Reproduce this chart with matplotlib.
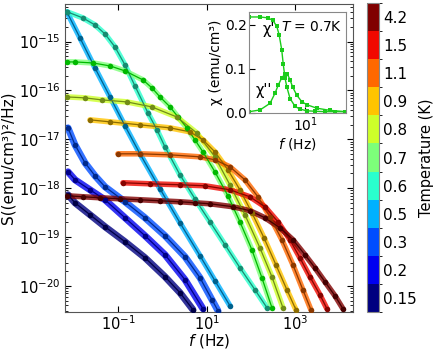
import numpy as np
import matplotlib
matplotlib.use("Agg")
import matplotlib.pyplot as plt
from matplotlib import colors as mcolors
from matplotlib.ticker import LogLocator, NullFormatter, FixedLocator, NullLocator

plt.rcParams['font.family'] = ['DejaVu Sans']

temps = ["0.15", "0.2", "0.3", "0.5", "0.6", "0.7", "0.8", "0.9", "1.1", "1.5", "4.2"]

# log10(f / Hz) and log10(S), one pair per temperature
lf_015 = [-2.139, -1.981, -1.641, -1.302, -0.849, -0.397, 0.056, 0.395, 0.689]
ls_015 = [-18.136, -18.300, -18.545, -18.790, -19.097, -19.424, -19.813, -20.140, -20.488]

lf_02 = [-2.139, -1.981, -1.641, -1.302, -0.849, -0.397, 0.056, 0.509, 0.915]
ls_02 = [-17.666, -17.829, -18.034, -18.238, -18.606, -18.974, -19.363, -19.874, -20.467]

lf_03 = [-2.139, -1.981, -1.754, -1.528, -1.302, -0.849, -0.397, 0.056, 0.509, 0.848, 1.119, 1.255]
ls_03 = [-16.766, -17.113, -17.482, -17.747, -17.972, -18.279, -18.606, -18.974, -19.404, -19.833, -20.283, -20.508]

lf_05 = [-2.168, -1.867, -1.528, -1.187, -0.849, -0.510, -0.057, 0.395, 0.848, 1.187, 1.526]
ls_05 = [-14.387, -14.925, -15.539, -16.132, -16.725, -17.297, -18.013, -18.709, -19.383, -19.895, -20.406]

lf_06 = [-2.168, -1.800, -1.528, -1.302, -1.076, -0.849, -0.623, -0.329, -0.125, 0.056, 0.395,
         0.734, 1.074, 1.413, 1.753, 2.092, 2.364]
ls_06 = [-14.387, -14.516, -14.659, -14.843, -15.109, -15.477, -15.907, -16.459, -16.807, -17.154,
         -17.727, -18.218, -18.688, -19.158, -19.629, -20.079, -20.447]

lf_07 = [-2.168, -1.981, -1.573, -1.187, -0.849, -0.442, -0.238, -0.057, 0.170, 0.350, 0.553,
         0.734, 0.915, 1.187, 1.481, 1.753, 2.024, 2.250, 2.477]
ls_07 = [-15.416, -15.416, -15.437, -15.498, -15.600, -15.784, -15.948, -16.132, -16.336, -16.541,
         -16.766, -17.011, -17.257, -17.666, -18.156, -18.688, -19.261, -19.833, -20.447]

lf_08 = [-2.168, -1.754, -1.376, -0.811, -0.245, 0.320, 0.773, 1.187, 1.526, 1.866, 2.205, 2.477, 2.726]
ls_08 = [-16.132, -16.152, -16.193, -16.234, -16.336, -16.541, -16.868, -17.359, -17.931, -18.545,
         -19.220, -19.813, -20.447]

lf_09 = [-1.641, -1.187, -0.510, 0.170, 0.620, 0.915, 1.187, 1.481, 1.753, 2.024, 2.296, 2.567, 2.816, 3.020]
ls_09 = [-16.602, -16.643, -16.704, -16.766, -16.847, -17.011, -17.257, -17.625, -18.034, -18.503,
         -19.015, -19.567, -20.079, -20.488]

lf_11 = [-1.008, -0.510, 0.170, 0.848, 1.187, 1.526, 1.866, 2.160, 2.432, 2.703, 2.952, 3.178, 3.360]
ls_11 = [-17.297, -17.297, -17.318, -17.359, -17.420, -17.563, -17.829, -18.177, -18.586, -19.056,
         -19.567, -20.079, -20.488]

lf_15 = [-0.895, -0.284, 0.395, 0.961, 1.526, 1.979, 2.318, 2.612, 2.884, 3.110, 3.337, 3.563, 3.722]
ls_15 = [-17.890, -17.911, -17.931, -17.952, -18.034, -18.177, -18.381, -18.688, -19.056, -19.424,
         -19.813, -20.181, -20.467]

lf_42 = [-2.168, -1.800, -1.415, -0.962, -0.510, -0.057, 0.395, 0.734, 1.074, 1.594, 1.979, 2.318,
         2.658, 2.952, 3.224, 3.450, 3.676, 3.903, 4.084]
ls_42 = [-18.156, -18.177, -18.197, -18.218, -18.238, -18.259, -18.279, -18.300, -18.320, -18.381,
         -18.462, -18.606, -18.811, -19.056, -19.363, -19.629, -19.915, -20.201, -20.467]

series_lf = [lf_015, lf_02, lf_03, lf_05, lf_06, lf_07, lf_08, lf_09, lf_11, lf_15, lf_42]
series_ls = [ls_015, ls_02, ls_03, ls_05, ls_06, ls_07, ls_08, ls_09, ls_11, ls_15, ls_42]

# inset: susceptibility at T = 0.7 K
in_lf1 = [-1.55, -1.06, -0.70, -0.47, -0.30, -0.19, -0.07, 0.0, 0.08, 0.16, 0.31, 0.54, 0.76,
          1.07, 1.45, 1.9, 2.36, 2.82]
chi1 = [0.218, 0.218, 0.216, 0.210, 0.197, 0.178, 0.143, 0.110, 0.079, 0.059, 0.032, 0.014, 0.008,
        0.004, 0.003, 0.002, 0.002, 0.002]
in_lf2 = [-1.55, -1.06, -0.605, -0.377, -0.226, -0.071, 0.079, 0.184, 0.307, 0.431, 0.613, 0.842,
          1.07, 1.53, 2.13, 2.85]
chi2 = [0.002, 0.006, 0.021, 0.044, 0.063, 0.079, 0.088, 0.088, 0.075, 0.058, 0.040, 0.025,
        0.018, 0.010, 0.005, 0.002]

W, H = 436, 349
fig = plt.figure(figsize=(W / 100, H / 100), dpi=100)
ax = fig.add_axes([65.3 / W, 1 - 311.7 / H, 288 / W, 307.7 / H])

jet = plt.get_cmap('jet')
cols = [jet(i / 10) for i in range(11)]

band_w = [5, 5, 5, 4, 4, 4, 4, 4, 4, 4, 4]
for i, (lf, ls) in enumerate(zip(series_lf, series_ls)):
    f = 10 ** np.array(lf)
    s = 10 ** np.array(ls)
    ax.plot(f, s, '-', color=cols[i], lw=band_w[i], alpha=0.8, solid_capstyle='round', zorder=2)

for i, (lf, ls) in enumerate(zip(series_lf, series_ls)):
    f = 10 ** np.array(lf)
    s = 10 ** np.array(ls)
    if temps[i] == "0.7":
        dc = (0.0, 0.72, 0.0)
    else:
        c = np.array(cols[i][:3])
        dc = tuple(c * 0.55)
    ax.plot(f, s, '-', color=dc, lw=0.9, zorder=3)
    ax.plot(f, s, 'o', color=dc, ms=4, mew=0, zorder=4)

ax.set_xscale('log')
ax.set_yscale('log')
ax.set_xlim(10 ** -2.2, 10 ** 4.32)
ax.set_ylim(10 ** -20.53, 10 ** -14.23)
ax.xaxis.set_major_locator(FixedLocator([1e-1, 1e1, 1e3]))
ax.xaxis.set_minor_locator(NullLocator())
ax.yaxis.set_major_locator(FixedLocator([1e-20, 1e-19, 1e-18, 1e-17, 1e-16, 1e-15]))
ax.yaxis.set_minor_locator(LogLocator(base=10, subs=np.arange(2, 10), numticks=20))
ax.yaxis.set_minor_formatter(NullFormatter())
ax.tick_params(which='both', direction='in', top=True, right=True, labelsize=10.5)
ax.tick_params(axis='x', pad=2)
ax.tick_params(which='major', length=4, width=0.8)
ax.tick_params(which='minor', length=2, width=0.6)
for sp in ax.spines.values():
    sp.set_color('#555555')
ax.set_xlabel(r'$f$ (Hz)', fontsize=11, labelpad=-1)
ax.set_ylabel('S((emu/cm³)²/Hz)', fontsize=11, labelpad=2)

# inset
ins = fig.add_axes([249.3 / W, 1 - 113 / H, 96.4 / W, 101.3 / H])
g = (0.1, 0.8, 0.1)
ins.plot(10 ** np.array(in_lf1), chi1, '-s', color=g, lw=1, ms=2.5, mew=0)
ins.plot(10 ** np.array(in_lf2), chi2, '-s', color=g, lw=1, ms=2.5, mew=0)
ins.set_xscale('log')
ins.set_xlim(10 ** -1.55, 10 ** 2.85)
ins.set_ylim(-0.001, 0.23)
ins.xaxis.set_major_locator(FixedLocator([10]))
ins.xaxis.set_minor_locator(NullLocator())
ins.set_yticks([0.0, 0.1, 0.2])
ins.tick_params(which='both', direction='in', labelsize=10, length=4, pad=2)
for sp in ins.spines.values():
    sp.set_color('#888888')
ins.set_xlabel(r'$f$ (Hz)', fontsize=10, labelpad=1)
ins.set_ylabel('χ (emu/cm³)', fontsize=10, labelpad=1)
ins.text(0.2, 0.82, "χ'", transform=ins.transAxes, fontsize=10.5, ha='center', va='center')
ins.text(0.15, 0.22, "χ''", transform=ins.transAxes, fontsize=10.5, ha='center', va='center')
ins.text(0.96, 0.85, r'$T$ = 0.7K', transform=ins.transAxes, fontsize=10, ha='right', va='center')

# colorbar
cax = fig.add_axes([367.3 / W, 1 - 311.7 / H, 12 / W, 308.4 / H])
cmap = mcolors.ListedColormap(cols)
norm = mcolors.BoundaryNorm(np.arange(12), 11)
cb = matplotlib.colorbar.ColorbarBase(cax, cmap=cmap, norm=norm, ticks=np.arange(11) + 0.5)
cb.set_ticklabels(temps)
cb.ax.tick_params(length=0, labelsize=11, pad=3)
cb.outline.set_edgecolor('#888888')
cb.set_label('Temperature (K)', fontsize=10.5, labelpad=1)

fig.savefig('out.png', dpi=100)
